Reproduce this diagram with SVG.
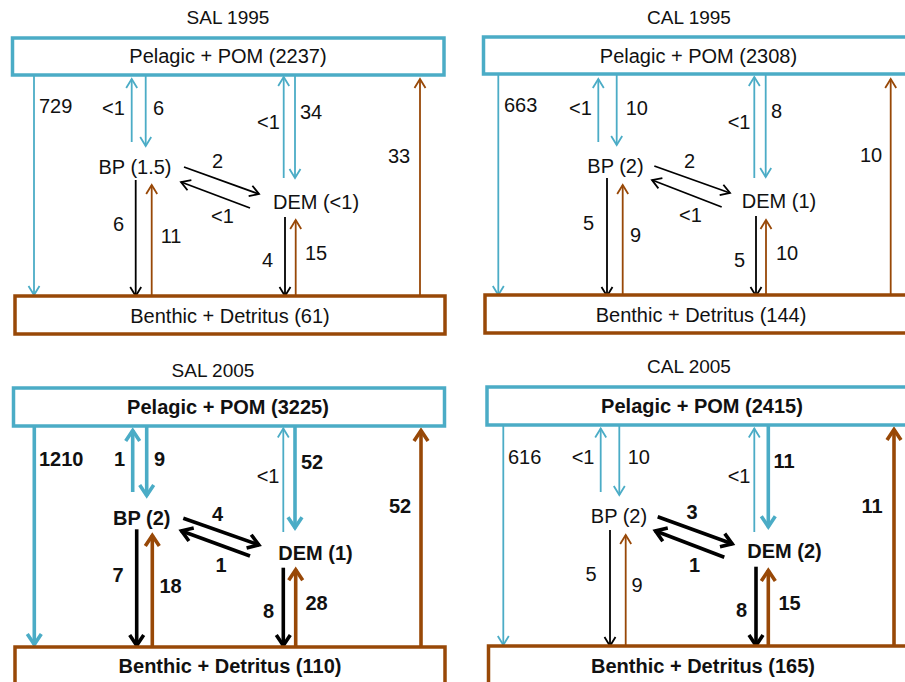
<svg xmlns="http://www.w3.org/2000/svg" width="905" height="682" viewBox="0 0 905 682">
  <style>
    text { font-family: "Liberation Sans", Arial, sans-serif; font-size: 20px; fill: #111; }
    .title { font-size: 19px; text-anchor: middle; }
    .mid { text-anchor: middle; }
    .b { font-weight: bold; }
    .pel { fill: #fff; stroke: #4BACC6; stroke-width: 3.5; }
    .ben { fill: #fff; stroke: #984807; stroke-width: 3.5; }
    line { fill: none; }
    .tt { stroke: #4BACC6; stroke-width: 1.8; marker-end: url(#mTealThin); }
    .tk { stroke: #4BACC6; stroke-width: 3.6; marker-end: url(#mTealThick); }
    .bt { stroke: #984807; stroke-width: 1.8; marker-end: url(#mBrownThin); }
    .bk { stroke: #984807; stroke-width: 3.6; marker-end: url(#mBrownThick); }
    .kt { stroke: #000; stroke-width: 1.8; marker-end: url(#mBlackThin); }
    .kk { stroke: #000; stroke-width: 3.6; marker-end: url(#mBlackThick); }
  </style>
  <defs>
    <marker id="mTealThin" markerUnits="userSpaceOnUse" viewBox="-12 -8 14 16" markerWidth="14" markerHeight="16" refX="0" refY="0" orient="auto" overflow="visible">
      <path d="M-9,-5.5 L0,0 L-9,5.5" fill="none" stroke="#4BACC6" stroke-width="1.8"/>
    </marker>
    <marker id="mTealThick" markerUnits="userSpaceOnUse" viewBox="-14 -10 16 20" markerWidth="16" markerHeight="20" refX="0" refY="0" orient="auto" overflow="visible">
      <path d="M-11,-7 L-0.5,0 L-11,7" fill="none" stroke="#4BACC6" stroke-width="3.6"/>
    </marker>
    <marker id="mBrownThin" markerUnits="userSpaceOnUse" viewBox="-12 -8 14 16" markerWidth="14" markerHeight="16" refX="0" refY="0" orient="auto" overflow="visible">
      <path d="M-9,-5.5 L0,0 L-9,5.5" fill="none" stroke="#984807" stroke-width="1.8"/>
    </marker>
    <marker id="mBrownThick" markerUnits="userSpaceOnUse" viewBox="-14 -10 16 20" markerWidth="16" markerHeight="20" refX="0" refY="0" orient="auto" overflow="visible">
      <path d="M-11,-7 L-0.5,0 L-11,7" fill="none" stroke="#984807" stroke-width="3.6"/>
    </marker>
    <marker id="mBlackThin" markerUnits="userSpaceOnUse" viewBox="-12 -8 14 16" markerWidth="14" markerHeight="16" refX="0" refY="0" orient="auto" overflow="visible">
      <path d="M-9,-5.5 L0,0 L-9,5.5" fill="none" stroke="#000" stroke-width="1.8"/>
    </marker>
    <marker id="mBlackThick" markerUnits="userSpaceOnUse" viewBox="-14 -10 16 20" markerWidth="16" markerHeight="20" refX="0" refY="0" orient="auto" overflow="visible">
      <path d="M-11,-7 L-0.5,0 L-11,7" fill="none" stroke="#000" stroke-width="3.6"/>
    </marker>
  </defs>

  <rect width="905" height="682" fill="#fff"/>

  <!-- Panel titles -->
  <text class="title" x="228" y="24">SAL 1995</text>
  <text class="title" x="689" y="24">CAL 1995</text>
  <text class="title" x="213" y="377">SAL 2005</text>
  <text class="title" x="689" y="373">CAL 2005</text>

  <!-- Connectors -->
  <g id="connectors">
    <!-- SAL 1995 -->
    <line class="tt" x1="34" y1="75" x2="34" y2="295"/>
    <line class="tt" x1="131.7" y1="142" x2="131.7" y2="79"/>
    <line class="tt" x1="145.7" y1="75" x2="145.7" y2="146"/>
    <line class="kt" x1="184" y1="167" x2="259" y2="194"/>
    <line class="kt" x1="250" y1="208" x2="181" y2="182"/>
    <line class="tt" x1="283.7" y1="178" x2="283.7" y2="77"/>
    <line class="tt" x1="295" y1="75" x2="295" y2="178"/>
    <line class="bt" x1="420" y1="296" x2="420" y2="79"/>
    <line class="kt" x1="135.7" y1="180" x2="135.7" y2="296"/>
    <line class="bt" x1="151.7" y1="296" x2="151.7" y2="185"/>
    <line class="kt" x1="285" y1="217" x2="285" y2="296"/>
    <line class="bt" x1="295.7" y1="296" x2="295.7" y2="220"/>

    <!-- CAL 1995 -->
    <line class="tt" x1="498.3" y1="74" x2="498.3" y2="295"/>
    <line class="tt" x1="598.3" y1="142" x2="598.3" y2="79"/>
    <line class="tt" x1="616.7" y1="74" x2="616.7" y2="145"/>
    <line class="kt" x1="654.3" y1="166" x2="730" y2="193"/>
    <line class="kt" x1="721.7" y1="207" x2="652" y2="180"/>
    <line class="tt" x1="754.3" y1="178" x2="754.3" y2="77"/>
    <line class="tt" x1="765.7" y1="74" x2="765.7" y2="177"/>
    <line class="bt" x1="890.7" y1="295" x2="890.7" y2="79"/>
    <line class="kt" x1="607" y1="178" x2="607" y2="296"/>
    <line class="bt" x1="622.7" y1="295" x2="622.7" y2="185"/>
    <line class="kt" x1="756" y1="216" x2="756" y2="296"/>
    <line class="bt" x1="766" y1="295" x2="766" y2="220"/>

    <!-- SAL 2005 -->
    <line class="tk" x1="34.3" y1="426" x2="34.3" y2="645"/>
    <line class="tk" x1="132.7" y1="492" x2="132.7" y2="430"/>
    <line class="tk" x1="146.7" y1="426" x2="146.7" y2="496"/>
    <line class="kk" x1="183.3" y1="518.3" x2="259.3" y2="545"/>
    <line class="kk" x1="250" y1="556" x2="181" y2="530.7"/>
    <line class="tt" x1="283.3" y1="532" x2="283.3" y2="428.5"/>
    <line class="tk" x1="295" y1="426" x2="295" y2="528.3"/>
    <line class="bk" x1="421" y1="646" x2="421" y2="430"/>
    <line class="kk" x1="136.7" y1="529.3" x2="136.7" y2="646"/>
    <line class="bk" x1="152.3" y1="646" x2="152.3" y2="535"/>
    <line class="kk" x1="283.3" y1="567.7" x2="283.3" y2="646"/>
    <line class="bk" x1="295.7" y1="646" x2="295.7" y2="569.3"/>

    <!-- CAL 2005 -->
    <line class="tt" x1="503.3" y1="425" x2="503.3" y2="645"/>
    <line class="tt" x1="600.7" y1="492" x2="600.7" y2="428.5"/>
    <line class="tt" x1="619.3" y1="425" x2="619.3" y2="495"/>
    <line class="kk" x1="657.7" y1="516.7" x2="732.7" y2="544"/>
    <line class="kk" x1="724.3" y1="557.3" x2="655" y2="530.7"/>
    <line class="tt" x1="754.3" y1="532" x2="754.3" y2="428.5"/>
    <line class="tk" x1="768.3" y1="425" x2="768.3" y2="527.3"/>
    <line class="bk" x1="894" y1="646" x2="894" y2="429"/>
    <line class="kt" x1="610" y1="530" x2="610" y2="646"/>
    <line class="bt" x1="625.7" y1="645" x2="625.7" y2="535"/>
    <line class="kk" x1="756" y1="566.7" x2="756" y2="646"/>
    <line class="bk" x1="768.3" y1="646" x2="768.3" y2="570"/>
  </g>

  <!-- Flow labels -->
  <g id="flow-labels">
    <!-- SAL 1995 -->
    <text x="39" y="113">729</text>
    <text x="102" y="115">&lt;1</text>
    <text x="153" y="115">6</text>
    <text x="257" y="129">&lt;1</text>
    <text x="300" y="119">34</text>
    <text x="388" y="163">33</text>
    <text x="212" y="168">2</text>
    <text x="211" y="223">&lt;1</text>
    <text x="113" y="231">6</text>
    <text x="160.7" y="243">11</text>
    <text x="262" y="267">4</text>
    <text x="305" y="260">15</text>

    <!-- CAL 1995 -->
    <text x="504" y="112">663</text>
    <text x="569" y="115">&lt;1</text>
    <text x="625.7" y="115">10</text>
    <text x="727.7" y="129">&lt;1</text>
    <text x="771" y="118">8</text>
    <text x="860" y="162">10</text>
    <text x="684" y="168">2</text>
    <text x="679" y="222">&lt;1</text>
    <text x="583" y="230">5</text>
    <text x="630" y="242">9</text>
    <text x="734" y="267">5</text>
    <text x="776" y="260">10</text>

    <!-- SAL 2005 -->
    <text class="b" x="39" y="466">1210</text>
    <text class="b" x="114" y="466">1</text>
    <text class="b" x="154" y="466">9</text>
    <text x="256.7" y="483">&lt;1</text>
    <text class="b" x="301" y="469">52</text>
    <text class="b" x="389" y="513">52</text>
    <text class="b" x="212" y="521">4</text>
    <text class="b" x="215.5" y="572">1</text>
    <text class="b" x="112.5" y="582">7</text>
    <text class="b" x="159.5" y="593">18</text>
    <text class="b" x="263" y="618">8</text>
    <text class="b" x="305.5" y="610">28</text>

    <!-- CAL 2005 -->
    <text x="508" y="464">616</text>
    <text x="571.7" y="464">&lt;1</text>
    <text x="627.7" y="464">10</text>
    <text x="727.7" y="483">&lt;1</text>
    <text class="b" x="773.5" y="468">11</text>
    <text class="b" x="861.5" y="513">11</text>
    <text class="b" x="686.5" y="519">3</text>
    <text class="b" x="689" y="572">1</text>
    <text x="585.5" y="581">5</text>
    <text x="631.5" y="592">9</text>
    <text class="b" x="736" y="617">8</text>
    <text class="b" x="778.5" y="610">15</text>
  </g>

  <!-- SAL 1995 nodes -->
  <g id="sal1995-pelagic"><rect class="pel" x="12.5" y="38" width="431.5" height="37"/><text class="mid" x="228" y="63">Pelagic + POM (2237)</text></g>
  <g id="sal1995-benthic"><rect class="ben" x="15" y="296" width="430" height="38"/><text class="mid" x="230" y="323">Benthic + Detritus (61)</text></g>
  <g id="sal1995-bp"><text class="mid" x="135" y="174">BP (1.5)</text></g>
  <g id="sal1995-dem"><text class="mid" x="316" y="209">DEM (&lt;1)</text></g>

  <!-- CAL 1995 nodes -->
  <g id="cal1995-pelagic"><rect class="pel" x="483.5" y="37" width="440" height="37"/><text class="mid" x="698.5" y="63">Pelagic + POM (2308)</text></g>
  <g id="cal1995-benthic"><rect class="ben" x="485" y="295" width="440" height="38"/><text class="mid" x="701" y="322">Benthic + Detritus (144)</text></g>
  <g id="cal1995-bp"><text class="mid" x="615.5" y="173">BP (2)</text></g>
  <g id="cal1995-dem"><text class="mid" x="779" y="208">DEM (1)</text></g>

  <!-- SAL 2005 nodes -->
  <g id="sal2005-pelagic"><rect class="pel" x="13.5" y="388" width="431" height="38"/><text class="mid b" x="228" y="414">Pelagic + POM (3225)</text></g>
  <g id="sal2005-benthic"><rect class="ben" x="15" y="647" width="430" height="50"/><text class="mid b" x="230" y="673">Benthic + Detritus (110)</text></g>
  <g id="sal2005-bp"><text class="mid b" x="141.8" y="525">BP (2)</text></g>
  <g id="sal2005-dem"><text class="mid b" x="315.5" y="560">DEM (1)</text></g>

  <!-- CAL 2005 nodes -->
  <g id="cal2005-pelagic"><rect class="pel" x="487" y="387" width="440" height="38"/><text class="mid b" x="702" y="413">Pelagic + POM (2415)</text></g>
  <g id="cal2005-benthic"><rect class="ben" x="488.5" y="646" width="440" height="50"/><text class="mid b" x="703" y="673">Benthic + Detritus (165)</text></g>
  <g id="cal2005-bp"><text class="mid" x="619" y="523">BP (2)</text></g>
  <g id="cal2005-dem"><text class="mid b" x="784.5" y="558">DEM (2)</text></g>
</svg>
